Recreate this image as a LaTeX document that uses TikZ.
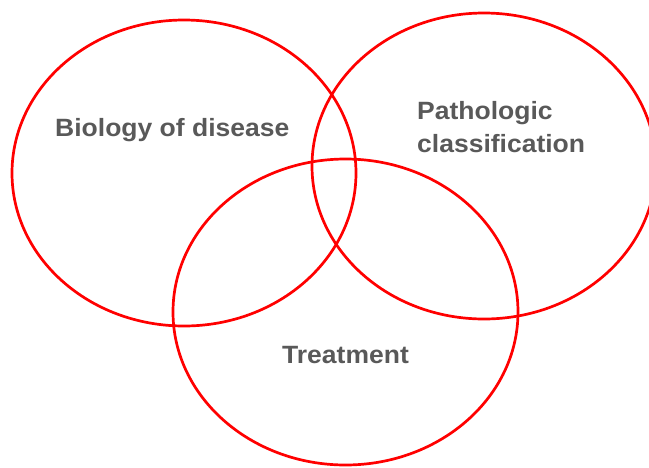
\documentclass[tikz,border=0pt]{standalone}
\usepackage{fontspec}
\setmainfont{Liberation Sans}
\newfontfamily\lblfont{Liberation Sans}[FakeStretch=1.06]
\begin{document}
\begin{tikzpicture}[x=1pt,y=-1pt,
  venn/.style={draw=red, line width=2.7pt},
  lbl/.style={anchor=base west, inner sep=0pt, text=black!65, font=\lblfont\fontsize{25}{30}\selectfont\bfseries}]
\useasboundingbox (0,0) rectangle (649,467);
\clip (0,0) rectangle (649,467);
\draw[venn] (184,173) ellipse [x radius=172, y radius=153];
\draw[venn] (484,166) ellipse [x radius=172, y radius=153];
\draw[venn] (345.5,312) ellipse [x radius=172.5, y radius=153];
\node[lbl] (bio) at (55,136) {Biology of disease};
\node[lbl] (path1) at (417,119) {Pathologic};
\node[lbl] (path2) at (417,152) {classification};
\node[lbl] (treat) at (282,363) {Treatment};
\end{tikzpicture}
\end{document}
